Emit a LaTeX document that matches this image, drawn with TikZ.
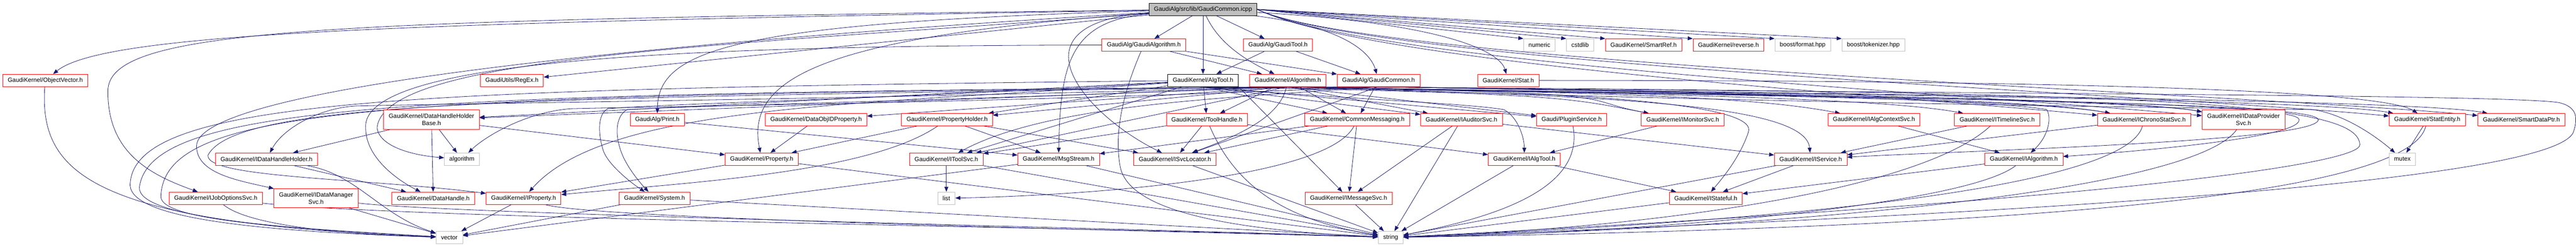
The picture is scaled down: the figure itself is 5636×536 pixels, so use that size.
\documentclass[tikz,border=0pt]{standalone}
\usepackage{fontspec}
\setmainfont{Liberation Sans}
\usetikzlibrary{arrows.meta,backgrounds}
\definecolor{edgec}{HTML}{191970}
\definecolor{sysgray}{HTML}{BFBFBF}
\tikzset{
  hdr/.style={draw=red, line width=0.9pt, fill=white, inner xsep=11pt, inner ysep=2pt, minimum height=27pt, font=\fontsize{13.3}{16}\selectfont, align=center},
  syshdr/.style={hdr, draw=sysgray},
  dochdr/.style={hdr, draw=black},
  roothdr/.style={hdr, draw=black, fill=sysgray},
  tall/.style={minimum height=42pt},
  dep/.style={draw=edgec, line width=0.9pt, -{Triangle[length=11pt,width=8.5pt]}}
}
\begin{document}
\begin{tikzpicture}[x=1pt,y=-1pt]
\useasboundingbox (0,0) rectangle (5636,536);
% row 1
\node[roothdr] (T) at (2632,20.5) {GaudiAlg/src/lib/GaudiCommon.icpp};
% row 2
\node[hdr] (GA) at (2502.5,98.5) {GaudiAlg/GaudiAlgorithm.h};
\node[hdr] (GT) at (2796,98.5) {GaudiAlg/GaudiTool.h};
\node[syshdr] (NUM) at (3368,98.5) {numeric};
\node[syshdr] (CST) at (3457,98.5) {cstdlib};
\node[hdr] (SR) at (3596,98.5) {GaudiKernel/SmartRef.h};
\node[hdr] (REV) at (3781.5,98.5) {GaudiKernel/reverse.h};
\node[syshdr] (BF) at (3944,98.5) {boost/format.hpp};
\node[syshdr] (BT) at (4098.5,98.5) {boost/tokenizer.hpp};
% row 3
\node[hdr] (OV) at (99,176) {GaudiKernel/ObjectVector.h};
\node[hdr] (RX) at (1120,176) {GaudiUtils/RegEx.h};
\node[dochdr] (AT) at (2632,176) {GaudiKernel/AlgTool.h};
\node[hdr] (AL) at (2817.5,176) {GaudiKernel/Algorithm.h};
\node[hdr] (GC) at (3016,176) {GaudiAlg/GaudiCommon.h};
\node[hdr] (ST) at (3300,176) {GaudiKernel/Stat.h};
% row 4
\node[hdr,tall] (DHHB) at (944,262) {GaudiKernel/DataHandleHolder\\Base.h};
\node[hdr] (PR) at (1438,262) {GaudiAlg/Print.h};
\node[hdr] (DOP) at (1785.5,262) {GaudiKernel/DataObjIDProperty.h};
\node[hdr] (PH) at (2072,262) {GaudiKernel/PropertyHolder.h};
\node[hdr] (TH) at (2640.5,262) {GaudiKernel/ToolHandle.h};
\node[hdr] (CM) at (2969.5,262) {GaudiKernel/CommonMessaging.h};
\node[hdr] (IAS) at (3197.5,262) {GaudiKernel/IAuditorSvc.h};
\node[hdr] (PS) at (3438.5,262) {Gaudi/PluginService.h};
\node[hdr] (IMS) at (3681.5,262) {GaudiKernel/IMonitorSvc.h};
\node[hdr] (IACS) at (4100,262) {GaudiKernel/IAlgContextSvc.h};
\node[hdr] (ITS) at (4369.5,262) {GaudiKernel/ITimelineSvc.h};
\node[hdr] (ICSS) at (4691,262) {GaudiKernel/IChronoStatSvc.h};
\node[hdr,tall] (IDPS) at (4908.5,262) {GaudiKernel/IDataProvider\\Svc.h};
\node[hdr] (SE) at (5310.5,262) {GaudiKernel/StatEntity.h};
\node[hdr] (SDP) at (5516.5,262) {GaudiKernel/SmartDataPtr.h};
% row 5
\node[hdr] (IDHH) at (583,348.5) {GaudiKernel/IDataHandleHolder.h};
\node[syshdr] (ALGO) at (1010.5,348.5) {algorithm};
\node[hdr] (PROP) at (1666.5,348.5) {GaudiKernel/Property.h};
\node[hdr] (ITOOL) at (2070.5,348.5) {GaudiKernel/IToolSvc.h};
\node[hdr] (MSG) at (2316,348.5) {GaudiKernel/MsgStream.h};
\node[hdr] (ISL) at (2570.5,348.5) {GaudiKernel/ISvcLocator.h};
\node[hdr] (IAT) at (3335,348.5) {GaudiKernel/IAlgTool.h};
\node[hdr] (ISV) at (3961.5,348.5) {GaudiKernel/IService.h};
\node[hdr] (IALG) at (4428,348.5) {GaudiKernel/IAlgorithm.h};
\node[syshdr] (MUT) at (5256,348.5) {mutex};
% row 6
\node[hdr] (IJO) at (472,434) {GaudiKernel/IJobOptionsSvc.h};
\node[hdr,tall] (IDMS) at (691.5,434) {GaudiKernel/IDataManager\\Svc.h};
\node[hdr] (DH) at (948,434) {GaudiKernel/DataHandle.h};
\node[hdr] (IPROP) at (1145.5,434) {GaudiKernel/IProperty.h};
\node[hdr] (SYS) at (1432,434) {GaudiKernel/System.h};
\node[syshdr] (LIST) at (2070.5,434) {list};
\node[hdr] (IMSG) at (2950.5,434) {GaudiKernel/IMessageSvc.h};
\node[hdr] (ISTF) at (3732,434) {GaudiKernel/IStateful.h};
% row 7
\node[syshdr] (VEC) at (983,520) {vector};
\node[syshdr] (STR) at (3042.5,520) {string};

\begin{pgfonlayer}{background}
\fill[white] (0,0) rectangle (5636,536);
% from the root
\draw[dep] (T) -- (GA);
\draw[dep] (T) -- (GT);
\draw[dep] (T) -- (AT);
\draw[dep] (T) .. controls (2660,80) and (2700,120) .. (AL);
\draw[dep] (T) .. controls (2950,60) and (3000,120) .. (GC);
\draw[dep] (T.east) -- (NUM.north west);
\draw[dep] (T.east) -- (CST.north west);
\draw[dep] (T.east) -- (SR.north west);
\draw[dep] (T.east) -- (REV.north west);
\draw[dep] (T.east) -- (BF.north west);
\draw[dep] (T.east) -- (BT.north west);
\draw[dep] (T) .. controls (3150,50) and (3280,110) .. (ST);
\draw[dep] (T) -- (RX);
\draw[dep] (T) .. controls (900,50) and (230,70) .. (OV);
\draw[dep] (T) .. controls (700,45) and (236,60) .. (236,200) .. controls (236,330) and (320,380) .. (IJO);
\draw[dep] (T) .. controls (1600,50) and (1440,110) .. (PR);
\draw[dep] (T) .. controls (1800,80) and (1630,170) .. (PROP);
\draw[dep] (T) .. controls (2340,45) and (2320,140) .. (MSG);
\draw[dep] (T) .. controls (2200,50) and (2370,250) .. (ISL);
\draw[dep] (T) .. controls (1300,100) and (430,200) .. (430,320) .. controls (430,380) and (520,395) .. (IDMS);
\draw[dep] (T) .. controls (1600,100) and (840,120) .. (825,280) .. controls (830,320) and (900,340) .. (ALGO);
\draw[dep] (T.east) .. controls (3000,140) and (4091,205) .. (ICSS);
\draw[dep] (T.east) .. controls (3000,140) and (4308,205) .. (IDPS);
\draw[dep] (T.east) .. controls (3000,140) and (4711,205) .. (SE);
\draw[dep] (T.east) .. controls (3000,140) and (4916,205) .. (SDP);
% GaudiAlgorithm.h, GaudiTool.h
\draw[dep] (GA) -- (AL);
\draw[dep] (GA) -- (GC);
\draw[dep] (GA) .. controls (1500,100) and (790,130) .. (800,280) .. controls (800,350) and (880,400) .. (DH);
\draw[dep] (GA) .. controls (2450,220) and (2440,300) .. (2450,360) .. controls (2460,440) and (2600,500) .. (STR);
\draw[dep] (GT) -- (AT);
\draw[dep] (GT) -- (GC);
% AlgTool.h
\draw[dep] (AT) -- (PH);
\draw[dep] (AT) -- (TH);
\draw[dep] (AT.south) -- (CM);
\draw[dep] (AT.south) -- (IAS);
\draw[dep] (AT.south) -- (PS);
\draw[dep] (AT.south) .. controls (3432,205) and (3431,215) .. (IMS);
\draw[dep] (AT.south) .. controls (2900,215) and (3200,225) .. (3290,240) .. controls (3320,255) and (3335,300) .. (IAT);
\draw[dep] (AT.south east) -- (IMSG);
\draw[dep] (AT) .. controls (1900,230) and (1330,225) .. (IPROP);
\draw[dep] (AT.south) .. controls (4300,215) and (5070,225) .. (5072,262) .. controls (5075,310) and (4300,330) .. (ISV);
\draw[dep] (AT) -- (ITOOL);
\draw[dep] (AT) -- (DHHB);
\draw[dep] (AT) .. controls (2000,215) and (1500,225) .. (1330,238) .. controls (1305,250) and (1310,300) .. (1320,330) .. controls (1330,360) and (1380,400) .. (SYS);
\draw[dep] (AT) .. controls (900,195) and (300,215) .. (285,400) .. controls (275,470) and (500,505) .. (VEC);
% Algorithm.h
\draw[dep] (AL.south) -- (PH);
\draw[dep] (AL.south) -- (DOP);
\draw[dep] (AL.south) -- (DHHB);
\draw[dep] (AL) -- (TH);
\draw[dep] (AL) -- (CM);
\draw[dep] (AL.south) -- (IAS);
\draw[dep] (AL.south) -- (PS);
\draw[dep] (AL.south) .. controls (3617,205) and (3431,215) .. (IMS);
\draw[dep] (AL.south) .. controls (3617,205) and (3850,215) .. (IACS);
\draw[dep] (AL.south) .. controls (3617,205) and (4119,215) .. (ITS);
\draw[dep] (AL.south) .. controls (3617,205) and (4441,215) .. (ICSS);
\draw[dep] (AL.south) .. controls (3617,205) and (4658,215) .. (IDPS);
\draw[dep] (AL.south) -- (ITOOL);
\draw[dep] (AL) .. controls (2800,260) and (2700,300) .. (ISL);
\draw[dep] (AL.south) .. controls (2000,215) and (1100,225) .. (780,232) .. controls (700,236) and (620,280) .. (IDHH);
\draw[dep] (AL.south) .. controls (1200,215) and (520,215) .. (455,340) .. controls (450,390) and (800,390) .. (IPROP);
\draw[dep] (AL.south) .. controls (2100,220) and (1550,230) .. (1372,240) .. controls (1345,255) and (1345,300) .. (1362,340) .. controls (1375,370) and (1400,400) .. (SYS);
\draw[dep] (AL.south) .. controls (900,205) and (330,225) .. (305,410) .. controls (300,475) and (600,500) .. (VEC);
\draw[dep] (AL.south) .. controls (3500,210) and (3950,225) .. (ISV);
\draw[dep] (AL.south) .. controls (3500,200) and (3850,230) .. (3825,290) .. controls (3805,350) and (3760,400) .. (ISTF);
\draw[dep] (AL.south) .. controls (4200,215) and (5030,222) .. (5030,262) .. controls (5035,300) and (4700,330) .. (IALG);
\draw[dep] (AL.south) .. controls (3800,225) and (4800,236) .. (5060,240) .. controls (5130,250) and (5200,300) .. (MUT);
\draw[dep] (AL.south) .. controls (4700,200) and (5160,220) .. (5163,317) .. controls (5165,360) and (4600,440) .. (STR);
% GaudiCommon.h
\draw[dep] (GC) -- (CM);
\draw[dep] (GC.south) -- (ISL);
\draw[dep] (GC.south) .. controls (2700,215) and (2300,225) .. (ITOOL);
\draw[dep] (GC.south) .. controls (3816,205) and (4441,215) .. (ICSS);
\draw[dep] (GC.south) .. controls (3816,205) and (4658,215) .. (IDPS);
\draw[dep] (GC.south) .. controls (3816,205) and (5060,215) .. (SE);
\draw[dep] (GC.south) .. controls (3816,205) and (5266,215) .. (SDP);
\draw[dep] (GC.south) .. controls (2200,225) and (1500,232) .. (1250,238) .. controls (1150,245) and (1060,300) .. (ALGO);
\draw[dep] (GC.south) .. controls (850,205) and (360,225) .. (352,430) .. controls (350,485) and (650,500) .. (VEC);
\draw[dep] (GC.south) .. controls (4000,205) and (4400,225) .. (4478,240) .. controls (4490,260) and (4480,300) .. (IALG);
\draw[dep] (GC.south) .. controls (4000,205) and (5500,205) .. (5600,225) .. controls (5640,235) and (5640,260) .. (5630,290) .. controls (5580,400) and (4400,470) .. (STR);
% Stat.h
\draw[dep] (ST) .. controls (4300,176) and (5200,190) .. (SE);
% row 4 sources
\draw[dep] (DHHB) -- (IDHH);
\draw[dep] (DHHB) -- (DH);
\draw[dep] (DHHB) -- (ALGO);
\draw[dep] (DHHB) -- (PROP);
\draw[dep] (PR) -- (MSG);
\draw[dep] (DOP) -- (PROP);
\draw[dep] (PH) -- (PROP);
\draw[dep] (PH) .. controls (1900,380) and (1500,400) .. (IPROP);
\draw[dep] (PH) -- (MSG);
\draw[dep] (PH) -- (ISL);
\draw[dep] (TH) -- (ITOOL);
\draw[dep] (TH) -- (ISL);
\draw[dep] (TH) -- (IAT);
\draw[dep] (TH) .. controls (2700,400) and (2800,480) .. (STR);
\draw[dep] (CM) -- (IMSG);
\draw[dep] (CM) -- (MSG);
\draw[dep] (CM) -- (ISL);
\draw[dep] (CM) .. controls (2900,400) and (2300,430) .. (LIST);
\draw[dep] (IAS) -- (ISV);
\draw[dep] (IAS) -- (IMSG);
\draw[dep] (IAS) -- (STR);
\draw[dep] (PS) .. controls (3470,420) and (3250,480) .. (STR);
\draw[dep] (IMS) -- (IAT);
\draw[dep] (IACS) -- (IALG);
\draw[dep] (ITS) -- (ISV);
\draw[dep] (ITS) .. controls (4200,420) and (3600,500) .. (STR);
\draw[dep] (ICSS) -- (ISV);
\draw[dep] (ICSS) .. controls (4650,420) and (3800,490) .. (STR);
\draw[dep] (IDPS) .. controls (4800,420) and (3900,500) .. (STR);
\draw[dep] (SE) -- (MUT);
\draw[dep] (SE) .. controls (5270,440) and (4300,500) .. (STR);
% row 5 sources
\draw[dep] (IDHH) -- (DH);
\draw[dep] (IDHH) .. controls (780,380) and (830,470) .. (VEC);
\draw[dep] (PROP) -- (IPROP);
\draw[dep] (PROP) -- (STR);
\draw[dep] (ITOOL) -- (LIST);
\draw[dep] (ITOOL) -- (STR);
\draw[dep] (MSG) -- (STR);
\draw[dep] (MSG) -- (VEC);
\draw[dep] (ISL) -- (STR);
\draw[dep] (IAT) -- (ISTF);
\draw[dep] (IAT) -- (STR);
\draw[dep] (ISV) -- (ISTF);
\draw[dep] (ISV) -- (STR);
\draw[dep] (IALG) -- (ISTF);
\draw[dep] (IALG) .. controls (4300,450) and (3600,510) .. (STR);
% row 6 sources
\draw[dep] (IJO) .. controls (550,500) and (800,515) .. (VEC);
\draw[dep] (IJO) .. controls (900,480) and (2500,500) .. (STR);
\draw[dep] (IDMS) -- (VEC);
\draw[dep] (IDMS) .. controls (1000,470) and (2500,500) .. (STR);
\draw[dep] (IPROP) -- (VEC);
\draw[dep] (IPROP) .. controls (1300,480) and (2500,505) .. (STR);
\draw[dep] (SYS) -- (VEC);
\draw[dep] (SYS) -- (STR);
\draw[dep] (IMSG) -- (STR);
\draw[dep] (ISTF) -- (STR);
\draw[dep] (OV) .. controls (85,380) and (200,490) .. (VEC);
\end{pgfonlayer}
\end{tikzpicture}
\end{document}
